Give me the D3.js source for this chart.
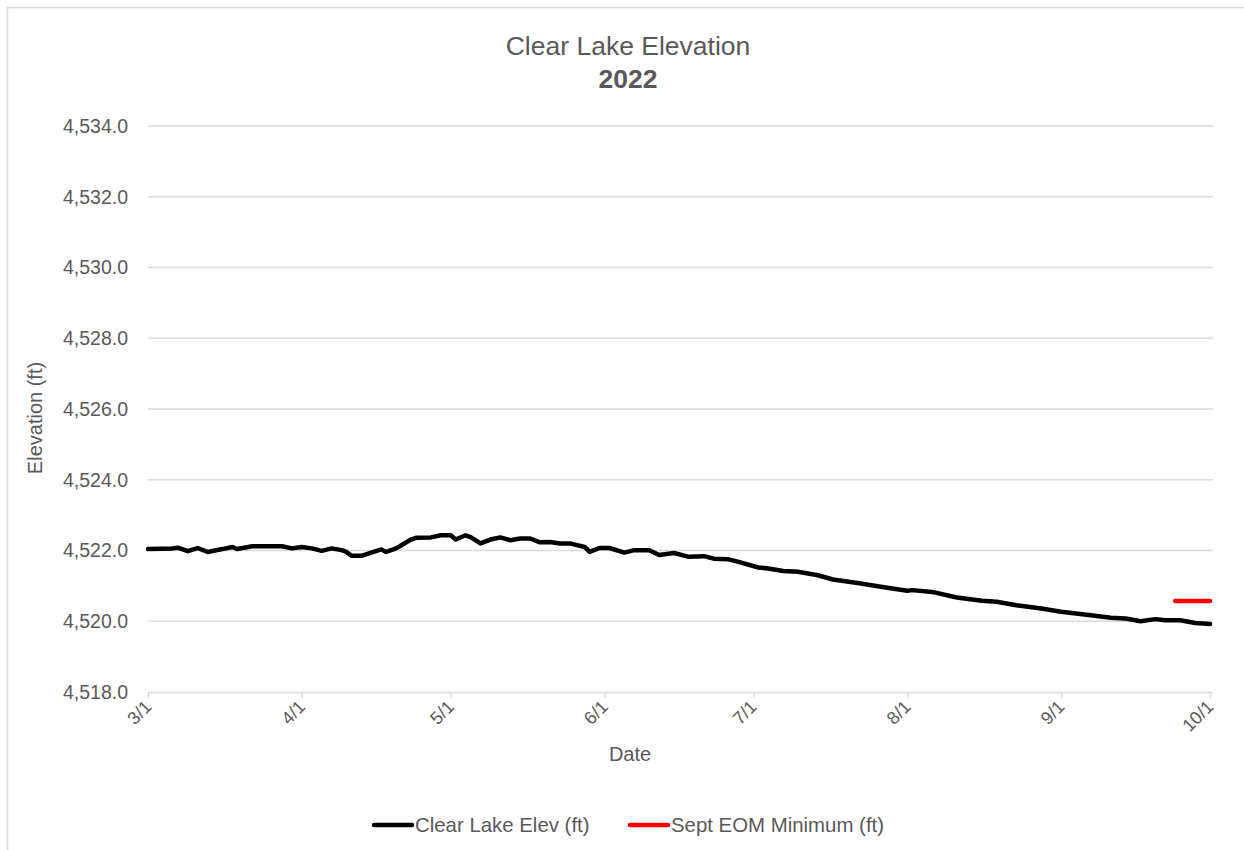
<!DOCTYPE html>
<html>
<head>
<meta charset="utf-8">
<script src="https://cdn.jsdelivr.net/npm/d3@7"></script>
<style>
  html, body { margin: 0; padding: 0; background: #fff; }
  svg { display: block; font-family: "Liberation Sans", Arial, sans-serif; }
</style>
</head>
<body>
<svg id="chart" width="1244" height="850"></svg>
<script>
// ---- Data ----
const elevDates = ["2022-03-01","2022-03-06","2022-03-07","2022-03-09","2022-03-11","2022-03-13","2022-03-16","2022-03-18","2022-03-19","2022-03-22","2022-03-28","2022-03-30",
  "2022-04-01","2022-04-03","2022-04-05","2022-04-07","2022-04-09","2022-04-10","2022-04-11","2022-04-13","2022-04-17","2022-04-18","2022-04-20","2022-04-23","2022-04-24","2022-04-27","2022-04-29",
  "2022-05-01","2022-05-02","2022-05-04","2022-05-05","2022-05-07","2022-05-09","2022-05-11","2022-05-13","2022-05-15","2022-05-17","2022-05-19","2022-05-21","2022-05-23","2022-05-25","2022-05-28","2022-05-29","2022-05-31",
  "2022-06-02","2022-06-05","2022-06-07","2022-06-10","2022-06-12","2022-06-15","2022-06-18","2022-06-21","2022-06-23","2022-06-26","2022-06-28",
  "2022-07-02","2022-07-04","2022-07-07","2022-07-10","2022-07-14","2022-07-17","2022-07-22","2022-07-27",
  "2022-08-01","2022-08-02","2022-08-06","2022-08-11","2022-08-16","2022-08-19","2022-08-23","2022-08-28",
  "2022-09-01","2022-09-04","2022-09-07","2022-09-11","2022-09-14","2022-09-17","2022-09-20","2022-09-22","2022-09-25","2022-09-28","2022-10-01"];
const elevValues = [4522.04,4522.06,4522.08,4521.98,4522.07,4521.96,4522.04,4522.10,4522.04,4522.12,4522.12,4522.06,
  4522.10,4522.06,4521.99,4522.06,4522.01,4521.96,4521.85,4521.85,4522.03,4521.96,4522.06,4522.31,4522.36,4522.37,4522.43,
  4522.43,4522.31,4522.43,4522.38,4522.20,4522.31,4522.37,4522.29,4522.34,4522.34,4522.23,4522.24,4522.20,4522.20,4522.10,4521.96,4522.07,
  4522.07,4521.94,4522.01,4522.01,4521.87,4521.93,4521.82,4521.84,4521.77,4521.75,4521.68,
  4521.52,4521.49,4521.42,4521.40,4521.30,4521.18,4521.08,4520.97,
  4520.86,4520.88,4520.83,4520.67,4520.58,4520.55,4520.45,4520.36,
  4520.27,4520.22,4520.17,4520.10,4520.08,4520.00,4520.06,4520.03,4520.03,4519.95,4519.92];
const minDates = ["2022-09-24","2022-10-01"];
const minValues = [4520.57,4520.57];
const xTickDates = ["2022-03-01","2022-04-01","2022-05-01","2022-06-01","2022-07-01","2022-08-01","2022-09-01","2022-10-01"];
const yTicks = [4518,4520,4522,4524,4526,4528,4530,4532,4534];
const titleLine1 = "Clear Lake Elevation";
const titleLine2 = "2022";
const seriesNames = ["Clear Lake Elev (ft)", "Sept EOM Minimum (ft)"];
const seriesColors = ["#000000", "#ff0000"];

(function () {
// ---- Layout ----
const parse = d3.timeParse("%Y-%m-%d");
const svg = d3.select("#chart");
const pLeft = 148, pRight = 1210, pTop = 126, pBottom = 692;
const textColor = "#595959";
const ff = "'Liberation Sans', Arial, sans-serif";

svg.append("rect").attr("x", 7.5).attr("y", 7.5).attr("width", 1250).attr("height", 860)
  .attr("fill", "#fff").attr("stroke", "#d9d9d9").attr("stroke-width", 1.5);

const x = d3.scaleTime().domain([parse("2022-03-01"), parse("2022-10-01")]).range([pLeft, pRight]);
const y = d3.scaleLinear().domain([4518, 4534]).range([pBottom, pTop]);

// gridlines
svg.append("g").selectAll("line").data(yTicks.filter(v => v !== 4518)).join("line")
  .attr("x1", pLeft).attr("x2", 1213).attr("y1", d => y(d)).attr("y2", d => y(d))
  .attr("stroke", "#d9d9d9").attr("stroke-width", 1.3);

// y axis labels
const yAxis = d3.axisLeft(y).tickValues(yTicks).tickSize(0).tickPadding(20)
  .tickFormat(d => d3.format(",.1f")(d));
const gy = svg.append("g").attr("transform", `translate(${pLeft},0)`).call(yAxis)
  .attr("font-size", null).attr("font-family", null);
gy.select(".domain").remove();
gy.selectAll("text").attr("fill", textColor).style("font-size", "19.5px").style("font-family", ff);

// x axis
const xAxis = d3.axisBottom(x).tickValues(xTickDates.map(parse)).tickSize(6)
  .tickFormat(d3.timeFormat("%-m/%-d"));
const gx = svg.append("g").attr("transform", `translate(0,${pBottom})`).call(xAxis)
  .attr("font-size", null).attr("font-family", null);
gx.select(".domain").attr("d", `M${pLeft},0.5H1213`).attr("stroke", "#d9d9d9").attr("stroke-width", 1.5);
gx.selectAll(".tick line").attr("stroke", "#d9d9d9").attr("stroke-width", 1.3);
gx.selectAll("text").attr("fill", textColor).style("font-size", "18px").style("font-family", ff)
  .attr("text-anchor", "end").attr("dy", null).attr("y", 0)
  .attr("transform", "translate(4,16) rotate(-45)");

// axis titles
svg.append("text").attr("x", 630).attr("y", 761).attr("text-anchor", "middle")
  .attr("fill", textColor).style("font-size", "20px").text("Date");
svg.append("text").attr("transform", `translate(42,418) rotate(-90)`)
  .attr("text-anchor", "middle").attr("fill", textColor).style("font-size", "20px").text("Elevation (ft)");

// title
svg.append("text").attr("x", 628).attr("y", 55).attr("text-anchor", "middle")
  .attr("fill", textColor).style("font-size", "26.5px").text(titleLine1);
svg.append("text").attr("x", 628).attr("y", 88).attr("text-anchor", "middle")
  .attr("fill", textColor).style("font-size", "26.5px").style("font-weight", "bold").text(titleLine2);

// lines
const line = d3.line().x(d => x(d[0])).y(d => y(d[1]));
svg.append("path").datum(elevDates.map((d, i) => [parse(d), elevValues[i]]))
  .attr("d", line).attr("fill", "none").attr("stroke", seriesColors[0])
  .attr("stroke-width", 4.5).attr("stroke-linejoin", "round").attr("stroke-linecap", "round");
svg.append("path").datum(minDates.map((d, i) => [parse(d), minValues[i]]))
  .attr("d", line).attr("fill", "none").attr("stroke", seriesColors[1])
  .attr("stroke-width", 4.5).attr("stroke-linecap", "round");

// legend
const legendItems = [{ x: 374, name: seriesNames[0], color: seriesColors[0] },
                     { x: 630, name: seriesNames[1], color: seriesColors[1] }];
const lg = svg.append("g");
legendItems.forEach(it => {
  lg.append("line").attr("x1", it.x).attr("x2", it.x + 38).attr("y1", 825).attr("y2", 825)
    .attr("stroke", it.color).attr("stroke-width", 4.5).attr("stroke-linecap", "round");
  lg.append("text").attr("x", it.x + 41).attr("y", 832).attr("fill", textColor)
    .style("font-size", "20.4px").text(it.name);
});
})();
</script>
</body>
</html>
